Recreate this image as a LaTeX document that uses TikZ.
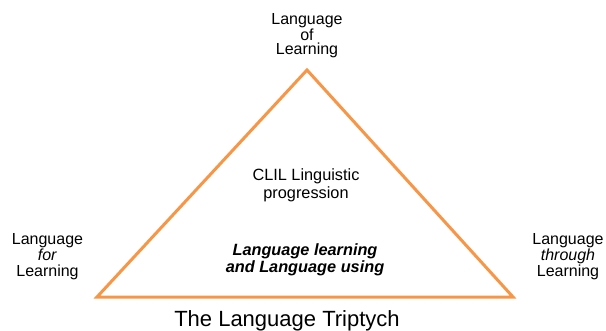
\documentclass[tikz,border=0pt]{standalone}
\usepackage{fontspec}
\setmainfont{Liberation Sans}
\definecolor{triorange}{RGB}{247,150,70}
\begin{document}
\begin{tikzpicture}[x=1pt,y=-1pt,
  lbl/.style={align=center,inner sep=0pt,font=\fontsize{16}{16}\selectfont},
  edge/.style={draw=triorange,line width=3pt,line join=miter}]
\useasboundingbox (0,0) rectangle (606,330);
\coordinate (apex) at (307,70);
\coordinate (bl) at (97,297);
\coordinate (br) at (513,297);
\draw[edge] (apex) -- (br) -- (bl) -- cycle;
\node[lbl,font=\fontsize{16}{14.5}\selectfont] (top) at (307,35.5) {Language\\of\\Learning};
\node[lbl,font=\fontsize{16}{16}\selectfont] (left) at (47.5,257) {Language\\\textit{for}\\Learning};
\node[lbl,font=\fontsize{16}{16}\selectfont] (right) at (568,257) {Language\\\textit{through}\\Learning};
\node[lbl,font=\fontsize{16.3}{18}\selectfont] (clil) at (306,185) {CLIL Linguistic\\progression};
\node[lbl,font=\fontsize{16.3}{17}\selectfont\bfseries\itshape] (using) at (305,259.5) {Language learning\\and Language using};
\node[inner sep=0pt,anchor=base,font=\fontsize{22}{22}\selectfont] (title) at (287,326) {The Language Triptych};
\end{tikzpicture}
\end{document}
